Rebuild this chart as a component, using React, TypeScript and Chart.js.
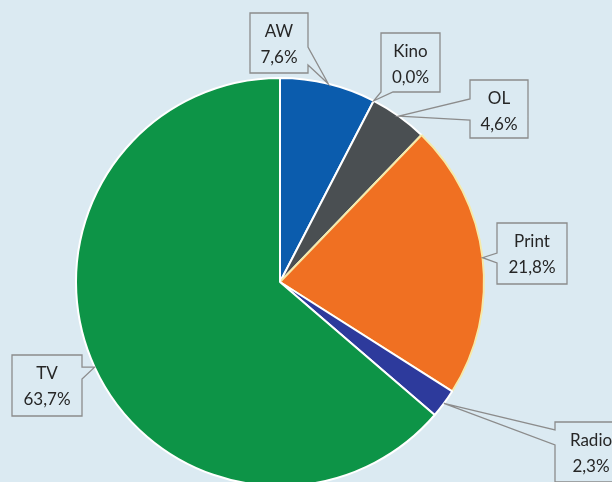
import React, { useEffect, useRef } from "react";
import { Chart, registerables } from "chart.js";

Chart.register(...registerables);

const categories = ["AW", "Kino", "OL", "Print", "Radio", "TV"];
const shares = [7.6, 0.0, 4.6, 21.8, 2.3, 63.7];
const sliceColors = ["#0b5cad", "#7a7a7a", "#4a4f52", "#f07022", "#2d3a9c", "#0d9447"];
const sliceBorders = ["#ffffff", "#ffffff", "#ffffff", "#f6e9a8", "#ffffff", "#ffffff"];

// callout box layout: x, y, w, h, side of the pointer, pointer base offsets along that side
const calloutBoxes = [
  { x: 250, y: 13, w: 58, h: 60, side: "right", a: 34, b: 52 },
  { x: 381, y: 33, w: 59, h: 59, side: "bottom", a: 0, b: 12 },
  { x: 470, y: 80, w: 58, h: 58, side: "left", a: 19, b: 40 },
  { x: 497, y: 223, w: 70, h: 61, side: "left", a: 30, b: 40 },
  { x: 555, y: 422, w: 72, h: 60, side: "left", a: 8, b: 23 },
  { x: 12, y: 355, w: 70, h: 61, side: "right", a: 12, b: 24 },
];

const BG = "#dbeaf2";

const calloutPlugin = {
  id: "callouts",
  afterDraw(chart: any) {
    const ctx = chart.ctx;
    const meta = chart.getDatasetMeta(0);
    ctx.save();
    meta.data.forEach((arc: any, i: number) => {
      const box = calloutBoxes[i];
      const p = arc.getProps(["x", "y", "startAngle", "endAngle", "outerRadius"], true);
      const mid = (p.startAngle + p.endAngle) / 2;
      const tx = p.x + Math.cos(mid) * p.outerRadius;
      const ty = p.y + Math.sin(mid) * p.outerRadius;
      const { x, y, w, h, side, a, b } = box;
      ctx.beginPath();
      ctx.moveTo(x, y);
      ctx.lineTo(x + w, y);
      if (side === "right") {
        ctx.lineTo(x + w, y + a);
        ctx.lineTo(tx, ty);
        ctx.lineTo(x + w, y + b);
      }
      ctx.lineTo(x + w, y + h);
      if (side === "bottom") {
        ctx.lineTo(x + b, y + h);
        ctx.lineTo(tx, ty);
        ctx.lineTo(x + a, y + h);
      }
      ctx.lineTo(x, y + h);
      if (side === "left") {
        ctx.lineTo(x, y + b);
        ctx.lineTo(tx, ty);
        ctx.lineTo(x, y + a);
      }
      ctx.closePath();
      ctx.fillStyle = BG;
      ctx.fill();
      ctx.strokeStyle = "#8c8c8c";
      ctx.lineWidth = 1.3;
      ctx.stroke();

      ctx.fillStyle = "#262626";
      ctx.font = "17px Lato, 'Open Sans', sans-serif";
      ctx.textAlign = "center";
      ctx.textBaseline = "middle";
      const cx = x + w / 2;
      ctx.fillText(categories[i], cx, y + 19);
      ctx.fillText(shares[i].toFixed(1).replace(".", ",") + "%", cx, y + 45);
    });
    ctx.restore();
  },
};

export default function App() {
  const ref = useRef<HTMLCanvasElement>(null);
  useEffect(() => {
    document.body.style.margin = "0";
    document.body.style.background = BG;
    document.body.style.overflow = "hidden";
    const chart = new Chart(ref.current!, {
      type: "pie",
      data: {
        labels: categories,
        datasets: [
          {
            data: shares,
            backgroundColor: sliceColors,
            borderColor: sliceBorders,
            borderWidth: 2,
          },
        ],
      },
      options: {
        animation: false,
        responsive: false,
        layout: { padding: { left: 75, right: 127, top: 77, bottom: 13 } },
        plugins: {
          legend: { display: false },
          tooltip: { enabled: false },
          title: { display: false },
        },
      },
      plugins: [calloutPlugin],
    });
    return () => chart.destroy();
  }, []);
  return (
    <div style={{ width: 612, height: 482, background: BG, overflow: "hidden" }}>
      <canvas ref={ref} width={612} height={500} style={{ display: "block" }} />
    </div>
  );
}
